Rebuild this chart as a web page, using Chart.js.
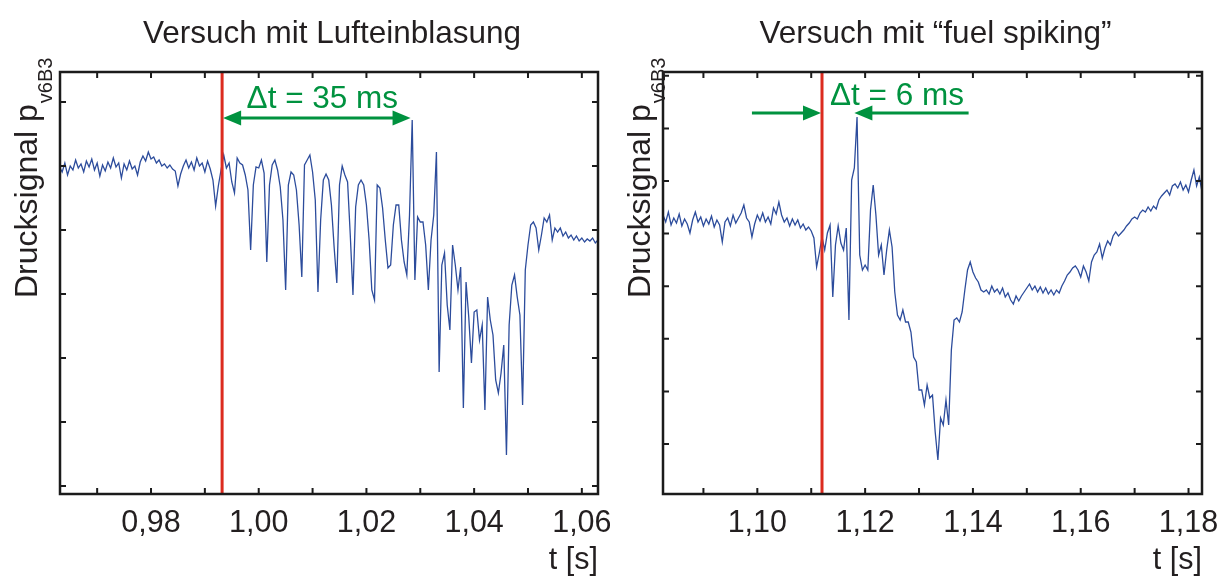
<!DOCTYPE html>
<html><head><meta charset="utf-8">
<script src="https://cdn.jsdelivr.net/npm/chart.js@4"></script>
<style>
html,body{margin:0;padding:0;background:#fff;}
#wrap{position:relative;width:1219px;height:581px;overflow:hidden;}
canvas{position:absolute;top:0;}
#c1{left:0;} #c2{left:610px;}
</style></head><body>
<div id="wrap"><canvas id="c1" width="610" height="581"></canvas><canvas id="c2" width="609" height="581"></canvas></div>
<script>
const FONT = '"Liberation Sans", Arial, Helvetica, sans-serif';
const TEXT = '#231f20', BLUE = '#2c4c9c', RED = '#dc2b1f', GREEN = '#00923f';

// Left experiment: "Versuch mit Lufteinblasung" (signal in arbitrary units, sampled every 0.5 ms)
const leftTitle = 'Versuch mit Lufteinblasung';
const leftStart = 0.963, leftStep = 0.0005;
const leftSignal = [
 319,314,323,311,320,316,326,318,322,314,
 325,319,327,316,323,310,321,315,324,318,
 328,319,323,308,322,316,325,317,320,311,
 324,330,325,334,327,329,323,326,320,322,
 318,321,317,315,300,312,320,326,318,324,
 316,328,320,323,314,325,317,306,280,300,
 316,331,318,323,304,293,328,323,321,311,
 296,236,301,319,318,326,313,224,301,321,
 326,316,299,266,196,301,314,311,296,261,
 209,321,326,331,314,286,194,266,306,312,
 306,281,239,203,301,320,311,304,251,191,
 279,301,306,301,281,246,196,186,301,298,
 278,246,218,221,261,281,281,246,224,211,
 271,366,206,269,264,264,241,196,246,271,
 334,114,221,233,181,156,241,221,196,219,
 78,204,169,123,174,176,146,161,76,189,
 166,151,106,93,113,141,31,161,201,211,
 189,171,81,216,241,261,264,258,236,251,
 268,264,271,246,258,254,258,250,254,248,
 251,246,250,245,248,244,247,245,248,243,
 246];
const leftXMin = 0.9631, leftXMax = 1.063;
const leftYMin = -8, leftYMax = 414;
const leftXLabels = [0.98, 1.00, 1.02, 1.04, 1.06];
const leftXMinor = [0.97, 0.98, 0.99, 1.00, 1.01, 1.02, 1.03, 1.04, 1.05, 1.06];
const leftYTicks = [0, 64, 128, 192, 256, 320, 384];
const leftEvent = {tStart: 0.9932, tPeak: 1.0282, arrowY: 368, text: '\u0394t = 35 ms'};

// Right experiment: "Versuch mit “fuel spiking”"
const rightTitle = 'Versuch mit \u201cfuel spiking\u201d';
const rightStart = 1.0825, rightStep = 0.0005;
const rightSignal = [
 229,222,232,219,226,221,230,218,225,220,
 211,224,232,222,227,218,225,220,228,217,
 224,219,202,222,226,218,229,221,226,231,
 239,226,222,207,220,229,223,231,222,227,
 220,236,230,242,229,222,226,218,225,219,
 224,216,220,214,217,213,206,177,191,207,
 194,211,219,147,199,218,201,194,216,124,
 264,276,327,189,174,179,174,234,259,229,
 189,199,169,194,214,197,152,129,124,134,
 122,122,112,87,82,54,54,39,59,46,
 49,12,-16,26,19,44,19,94,124,126,
 122,132,154,174,182,172,166,162,154,152,
 154,150,158,152,155,150,156,147,151,144,
 140,148,143,148,152,156,160,154,158,152,
 157,151,156,150,154,149,154,151,158,163,
 169,172,176,178,174,167,178,172,163,182,
 189,192,200,186,196,203,199,208,212,208,
 211,214,218,221,225,227,225,231,234,232,
 237,233,238,235,244,248,251,254,249,258,
 260,256,262,254,259,252,264,274,258,267,
 252];
const rightXMin = 1.0825, rightXMax = 1.1825;
const rightYMin = -50, rightYMax = 372;
const rightXLabels = [1.10, 1.12, 1.14, 1.16, 1.18];
const rightXMinor = [1.09, 1.10, 1.11, 1.12, 1.13, 1.14, 1.15, 1.16, 1.17, 1.18];
const rightYTicks = [0, 52.6, 105.2, 157.8, 210.4, 263, 315.6, 368.2];
const rightEvent = {tStart: 1.112, tPeak: 1.118, arrowY: 331, armFrom: 1.099, armTo: 1.1392, text: '\u0394t = 6 ms'};

function head(ctx, tipX, y, dir, L, H) {
  ctx.beginPath();
  ctx.moveTo(tipX, y);
  ctx.lineTo(tipX - dir * L, y - H);
  ctx.lineTo(tipX - dir * L, y + H);
  ctx.closePath();
  ctx.fill();
}

const decor = {
  id: 'decor',
  afterDatasetsDraw(chart, args, o) {
    const {ctx, chartArea: a, scales: {x, y}} = chart;
    const ev = o.event;
    ctx.save();
    const xr = x.getPixelForValue(ev.tStart);
    const xp = x.getPixelForValue(ev.tPeak);
    const ay = y.getPixelForValue(ev.arrowY);
    // red onset line
    ctx.strokeStyle = RED; ctx.lineWidth = 3;
    ctx.beginPath(); ctx.moveTo(xr, a.top); ctx.lineTo(xr, a.bottom); ctx.stroke();
    // green arrows
    ctx.strokeStyle = GREEN; ctx.fillStyle = GREEN; ctx.lineWidth = 3;
    const L = 18, H = 7.5;
    if (o.mode === 'between') {
      ctx.beginPath(); ctx.moveTo(xr + L - 1, ay); ctx.lineTo(xp - L + 1, ay); ctx.stroke();
      head(ctx, xr + 1, ay, -1, L, H);
      head(ctx, xp, ay, 1, L, H);
    } else {
      const x0 = x.getPixelForValue(ev.armFrom), x1 = x.getPixelForValue(ev.armTo);
      ctx.beginPath(); ctx.moveTo(x0, ay); ctx.lineTo(xr - L + 1, ay); ctx.stroke();
      head(ctx, xr - 1, ay, 1, L, H);
      ctx.beginPath(); ctx.moveTo(x1, ay); ctx.lineTo(xp + L - 1, ay); ctx.stroke();
      head(ctx, xp, ay, -1, L, H);
    }
    ctx.font = '31.5px ' + FONT;
    ctx.textBaseline = 'alphabetic';
    if (o.mode === 'between') {
      ctx.textAlign = 'center';
      ctx.fillText(ev.text, (xr + xp) / 2 + 6, ay - 10);
    } else {
      ctx.textAlign = 'left';
      ctx.fillText(ev.text, xr + 8, ay - 8);
    }
    // frame and inward ticks
    ctx.strokeStyle = '#1b1b1b'; ctx.lineWidth = 2.5;
    ctx.strokeRect(a.left, a.top, a.right - a.left, a.bottom - a.top);
    ctx.lineWidth = 2;
    ctx.beginPath();
    o.xMinor.forEach(v => {
      const p = x.getPixelForValue(v);
      ctx.moveTo(p, a.bottom); ctx.lineTo(p, a.bottom - 6);
      ctx.moveTo(p, a.top); ctx.lineTo(p, a.top + 6);
    });
    o.yTicks.forEach(v => {
      const p = y.getPixelForValue(v);
      ctx.moveTo(a.left, p); ctx.lineTo(a.left + 6, p);
      ctx.moveTo(a.right, p); ctx.lineTo(a.right - 6, p);
    });
    ctx.stroke();
    // title
    ctx.fillStyle = TEXT;
    ctx.font = '31.5px ' + FONT;
    ctx.textAlign = 'center'; ctx.textBaseline = 'alphabetic';
    ctx.fillText(o.title, (a.left + a.right) / 2 + 3, 43);
    // y axis title with subscript
    ctx.translate(o.yTitleX, 298);
    ctx.rotate(-Math.PI / 2);
    ctx.textAlign = 'left';
    ctx.font = '32px ' + FONT;
    const main = 'Drucksignal p';
    ctx.fillText(main, 0, 0);
    const w = ctx.measureText(main).width;
    ctx.font = '20px ' + FONT;
    ctx.fillText('v6B3', w + 1, 15);
    ctx.restore();
  }
};

function makeChart(id, start, step, signal, cfg) {
  const pts = signal.map((v, i) => ({x: +(start + i * step).toFixed(4), y: v}));
  return new Chart(document.getElementById(id), {
    type: 'line',
    data: {datasets: [{data: pts, borderColor: BLUE, borderWidth: 1.3, pointRadius: 0, tension: 0, fill: false}]},
    options: {
      responsive: false, animation: false, events: [],
      layout: {padding: {left: cfg.padL, right: cfg.padR, top: 72, bottom: 0}},
      plugins: {legend: {display: false}, title: {display: false}, tooltip: {enabled: false},
        decor: {event: cfg.event, mode: cfg.mode, xMinor: cfg.xMinor, yTicks: cfg.yTicks, title: cfg.title, yTitleX: cfg.yTitleX}},
      scales: {
        x: {type: 'linear', min: cfg.xMin, max: cfg.xMax,
          grid: {display: false, drawTicks: false}, border: {display: false},
          afterBuildTicks: s => { s.ticks = cfg.xLabels.map(v => ({value: v})); },
          ticks: {callback: v => v.toFixed(2).replace('.', ','), font: {family: FONT, size: 30.5}, color: TEXT, padding: 11, maxRotation: 0, autoSkip: false},
          title: {display: true, text: 't [s]', align: 'end', font: {family: FONT, size: 30.5}, color: TEXT, padding: {top: 4, bottom: 2}},
          afterFit: s => { s.height = 87; s.paddingLeft = 0; s.paddingRight = 0; }
        },
        y: {type: 'linear', display: false, min: cfg.yMin, max: cfg.yMax}
      }
    },
    plugins: [decor]
  });
}

makeChart('c1', leftStart, leftStep, leftSignal, {
  padL: 60, padR: 12, xMin: leftXMin, xMax: leftXMax, yMin: leftYMin, yMax: leftYMax,
  xLabels: leftXLabels, xMinor: leftXMinor, yTicks: leftYTicks, event: leftEvent, mode: 'between',
  title: leftTitle, yTitleX: 37
});
makeChart('c2', rightStart, rightStep, rightSignal, {
  padL: 53, padR: 17, xMin: rightXMin, xMax: rightXMax, yMin: rightYMin, yMax: rightYMax,
  xLabels: rightXLabels, xMinor: rightXMinor, yTicks: rightYTicks, event: rightEvent, mode: 'inward',
  title: rightTitle, yTitleX: 40
});
</script>
</body></html>
